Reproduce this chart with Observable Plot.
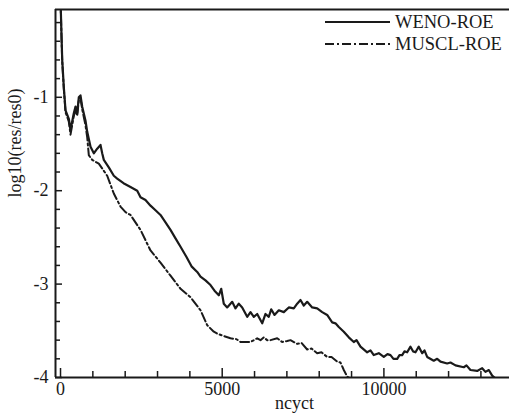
<!DOCTYPE html>
<html>
<head>
<meta charset="utf-8">
<script src="https://cdn.jsdelivr.net/npm/d3@7"></script>
<script src="https://cdn.jsdelivr.net/npm/@observablehq/plot@0.6"></script>
<style>
  html, body { margin: 0; padding: 0; background: #fff; }
  #wrap { position: relative; width: 509px; height: 417px; }
  #wrap svg { display: block; }
  #legend { position: absolute; left: 0; top: 0; }
</style>
</head>
<body>
<div id="wrap"></div>
<script>
// ---- data ----
const seriesNames = ["WENO-ROE", "MUSCL-ROE"];

const wenoX = [0, 31, 53, 102, 155, 257, 309, 411, 464, 516, 566, 618, 671, 773, 826, 928, 1030, 1135, 1237, 1289, 1339, 1493, 1648, 1753, 1948, 2164, 2372, 2474, 2628, 2783, 2937, 3092, 3247, 3401, 3556, 3711, 3896, 4051, 4227, 4329, 4483, 4638, 4762, 4895, 4969, 5049, 5154, 5309, 5411, 5513, 5618, 5773, 5875, 5977, 6082, 6237, 6339, 6441, 6515, 6617, 6750, 6905, 7059, 7214, 7319, 7421, 7523, 7628, 7783, 7937, 8092, 8246, 8401, 8503, 8605, 8760, 8914, 9069, 9153, 9276, 9483, 9585, 9687, 9842, 9997, 10111, 10204, 10296, 10411, 10482, 10565, 10637, 10720, 10822, 10900, 10977, 11079, 11184, 11255, 11338, 11542, 11648, 11750, 11957, 12059, 12214, 12470, 12553, 12677, 12884, 13039, 13141, 13244, 13348, 13450];
const wenoY = [0.05, -0.34, -0.60, -0.89, -1.14, -1.23, -1.35, -1.17, -1.10, -1.17, -1.00, -0.98, -1.10, -1.25, -1.37, -1.53, -1.60, -1.55, -1.51, -1.60, -1.67, -1.75, -1.84, -1.87, -1.92, -1.96, -2.00, -2.07, -2.10, -2.16, -2.21, -2.26, -2.34, -2.42, -2.51, -2.60, -2.71, -2.81, -2.87, -2.92, -2.96, -3.01, -3.07, -3.12, -3.05, -3.21, -3.25, -3.19, -3.26, -3.21, -3.25, -3.35, -3.30, -3.35, -3.32, -3.42, -3.32, -3.35, -3.27, -3.33, -3.28, -3.30, -3.25, -3.26, -3.21, -3.17, -3.23, -3.19, -3.25, -3.26, -3.30, -3.33, -3.41, -3.42, -3.46, -3.51, -3.57, -3.62, -3.60, -3.67, -3.73, -3.71, -3.76, -3.74, -3.78, -3.75, -3.76, -3.80, -3.80, -3.76, -3.76, -3.72, -3.73, -3.67, -3.72, -3.73, -3.67, -3.74, -3.71, -3.78, -3.82, -3.80, -3.83, -3.85, -3.84, -3.87, -3.89, -3.87, -3.92, -3.93, -3.90, -3.94, -3.92, -3.98, -4.01];

const musclX = [0, 31, 53, 102, 155, 257, 309, 411, 464, 516, 566, 618, 671, 773, 826, 875, 980, 1184, 1444, 1648, 1855, 2010, 2164, 2474, 2783, 3092, 3401, 3711, 4020, 4329, 4536, 4740, 4845, 5000, 5256, 5442, 5566, 5668, 5875, 6082, 6184, 6286, 6391, 6493, 6700, 6855, 7010, 7112, 7319, 7452, 7628, 7761, 7937, 8070, 8246, 8380, 8556, 8658, 8760, 8865, 8967];
const musclY = [0.05, -0.36, -0.62, -0.91, -1.16, -1.26, -1.40, -1.20, -1.13, -1.20, -1.03, -1.01, -1.13, -1.30, -1.43, -1.62, -1.67, -1.71, -1.84, -2.03, -2.17, -2.23, -2.26, -2.42, -2.64, -2.77, -2.91, -3.05, -3.14, -3.28, -3.44, -3.51, -3.53, -3.55, -3.58, -3.59, -3.62, -3.62, -3.62, -3.58, -3.60, -3.57, -3.60, -3.60, -3.58, -3.62, -3.61, -3.60, -3.64, -3.63, -3.70, -3.69, -3.74, -3.73, -3.78, -3.78, -3.83, -3.84, -3.92, -3.99, -4.01];

const xLabelTicks = [0, 5000, 10000];
const xMinorTicks = [1000, 2000, 3000, 4000, 6000, 7000, 8000, 9000, 11000, 12000, 13000];
const yLabelTicks = [-1, -2, -3, -4];
const yMinorTicks = [-0.2, -0.4, -0.6, -0.8, -1.2, -1.4, -1.6, -1.8, -2.2, -2.4, -2.6, -2.8, -3.2, -3.4, -3.6, -3.8];
const xDomain = [-155, 13884];
const yDomain = [-4, -0.06];

const weno = wenoX.map((x, i) => ({x, y: wenoY[i]}));
const muscl = musclX.map((x, i) => ({x, y: musclY[i]}));

const ink = "#1a1a1a";
const font = "'Liberation Serif', 'Times New Roman', serif";

const chart = Plot.plot({
  width: 509,
  height: 417,
  marginLeft: 55,
  marginRight: 0,
  marginTop: 9,
  marginBottom: 40,
  x: {domain: xDomain, label: null},
  y: {domain: yDomain, label: null},
  style: {fontFamily: font, fontSize: "18px", color: ink, background: "#fff"},
  marks: [
    Plot.line(weno, {x: "x", y: "y", stroke: ink, strokeWidth: 2.2, clip: true}),
    Plot.line(muscl, {x: "x", y: "y", stroke: ink, strokeWidth: 2, strokeDasharray: "9,3,2,3", clip: true}),
    // frame lines
    Plot.ruleX([xDomain[0]], {stroke: ink, strokeWidth: 2}),
    Plot.ruleY(yDomain, {stroke: ink, strokeWidth: 2}),
    // x ticks (inward) and labels
    Plot.axisX(xLabelTicks, {tickSize: -9, tickFormat: () => "", stroke: ink, strokeWidth: 1.5, label: null}),
    Plot.axisX(xMinorTicks, {tickSize: -6, tickFormat: () => "", stroke: ink, strokeWidth: 1.5, label: null}),
    Plot.axisX(xLabelTicks, {tickSize: 0, tickPadding: 5, tickFormat: d => String(d), fill: ink, label: null}),
    // y ticks (inward) and labels
    Plot.axisY(yLabelTicks, {tickSize: -7, tickFormat: () => "", stroke: ink, strokeWidth: 1.5, label: null}),
    Plot.axisY(yMinorTicks, {tickSize: -5, tickFormat: () => "", stroke: ink, strokeWidth: 1.5, label: null}),
    Plot.axisY(yLabelTicks, {tickSize: 0, tickPadding: 7, tickFormat: d => String(d), fill: ink, label: null}),
    // axis titles
    Plot.text(["ncyct"], {frameAnchor: "bottom", dx: 12, dy: 31, text: d => d, fill: ink, fontSize: 18}),
    Plot.text(["log10(res/res0)"], {frameAnchor: "left", dx: -40, dy: 4, rotate: -90, text: d => d, fill: ink, fontSize: 18})
  ]
});

const wrap = document.getElementById("wrap");
wrap.appendChild(chart);

// legend overlay
const leg = d3.select(wrap).append("svg")
  .attr("id", "legend")
  .attr("width", 509).attr("height", 417)
  .style("pointer-events", "none");
const dashes = [null, "9,3,2,3"];
seriesNames.forEach((name, i) => {
  const yy = 22 + i * 22;
  leg.append("line")
    .attr("x1", 325).attr("x2", 390).attr("y1", yy).attr("y2", yy)
    .attr("stroke", ink).attr("stroke-width", i === 0 ? 2.2 : 2)
    .attr("stroke-dasharray", dashes[i]);
  leg.append("text")
    .attr("x", 395).attr("y", yy).attr("dy", "0.35em")
    .attr("fill", ink)
    .style("font-family", font).style("font-size", "18.5px")
    .text(name);
});
</script>
</body>
</html>
